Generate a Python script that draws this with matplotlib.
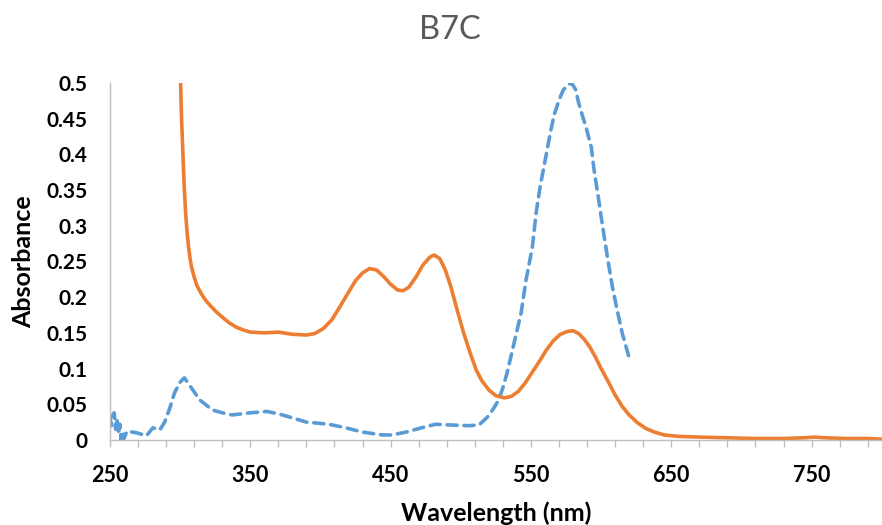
import numpy as np
from matplotlib import pyplot as plt

plt.rcParams['font.family'] = ['Lato', 'DejaVu Sans']

# orange solid curve (nm, absorbance)
orange_nm = [299.5, 301, 302, 303, 304, 305, 306, 307, 308, 310, 312, 315, 318, 322, 326, 330, 335, 340,
             345, 350, 360, 370, 380, 390, 396, 402, 408, 414, 420, 425, 430, 435, 440, 445, 450, 455,
             459, 463, 468, 473, 478, 481, 485, 489, 493, 497, 502, 507, 511, 515, 520, 525, 531, 536,
             541, 546, 551, 556, 561, 566, 571, 576, 580, 584, 588, 592, 596, 600, 605, 610, 615, 620,
             626, 632, 638, 645, 655, 670, 690, 710, 730, 745, 752, 760, 775, 790, 800]
orange_abs = [0.56, 0.45, 0.40, 0.35, 0.315, 0.29, 0.27, 0.255, 0.243, 0.228, 0.216, 0.205, 0.196, 0.187, 0.179, 0.172, 0.164, 0.158,
              0.154, 0.151, 0.15, 0.151, 0.148, 0.147, 0.149, 0.156, 0.168, 0.187, 0.207, 0.223, 0.234, 0.24, 0.238, 0.229, 0.218, 0.21,
              0.209, 0.214, 0.228, 0.245, 0.256, 0.259, 0.254, 0.238, 0.214, 0.185, 0.15, 0.12, 0.098, 0.083, 0.07, 0.062, 0.059, 0.061,
              0.068, 0.08, 0.095, 0.11, 0.126, 0.139, 0.148, 0.152, 0.153, 0.149, 0.141, 0.13, 0.116, 0.1, 0.082, 0.063, 0.047, 0.035,
              0.024, 0.016, 0.011, 0.007, 0.005, 0.004, 0.003, 0.002, 0.002, 0.003, 0.004, 0.003, 0.002, 0.002, 0.001]

# blue dashed curve
blue_nm = [250, 251, 252, 253, 254, 255, 256, 257, 258, 259, 260, 262, 266, 269, 276, 280.6, 285.5, 289,
           292.7, 296, 300, 303, 308, 314, 323, 330, 337, 350, 362, 373, 390, 406, 418, 430, 444,
           451, 461, 472, 482, 492, 506, 513, 519, 523, 527, 530, 533, 538, 543, 546.5, 551, 553.7,
           556.5, 559, 561.5, 564, 566.5, 570, 573, 576, 579, 582, 584, 587, 589, 593, 595, 598,
           601, 605, 608, 611, 615, 620]
blue_abs = [0.031, 0.02, 0.035, 0.038, 0.015, 0.03, 0.008, 0.022, 0.0, 0.012, 0.002, 0.012, 0.011, 0.01, 0.006, 0.017, 0.014, 0.025,
            0.045, 0.066, 0.081, 0.087, 0.073, 0.056, 0.042, 0.038, 0.035, 0.038, 0.04, 0.035, 0.025, 0.022, 0.017, 0.011, 0.007,
            0.007, 0.011, 0.017, 0.022, 0.021, 0.02, 0.021, 0.032, 0.043, 0.056, 0.073, 0.094, 0.136, 0.178, 0.224, 0.27, 0.318,
            0.354, 0.38, 0.406, 0.432, 0.455, 0.476, 0.49, 0.497, 0.5, 0.49, 0.472, 0.452, 0.44, 0.41, 0.378, 0.34,
            0.3, 0.25, 0.215, 0.186, 0.15, 0.115]

fig = plt.figure(figsize=(8.82, 5.25), dpi=100)
ax = fig.add_axes([0.1247, 0.162, 0.875, 0.68])

ax.plot(blue_nm, blue_abs, color='#5B9BD5', lw=2.6, linestyle=(0, (2.8, 1.9)),
        dash_capstyle='round', solid_joinstyle='round', dash_joinstyle='round')
ax.plot(orange_nm, orange_abs, color='#ED7D31', lw=2.6, solid_joinstyle='round')

ax.set_xlim(250, 800)
ax.set_ylim(0, 0.5)

xt = np.arange(250, 800, 20)
ax.set_xticks(xt)
ax.set_xticklabels([str(v) if (v - 250) % 100 == 0 else '' for v in xt])
yt = np.arange(0, 0.501, 0.05)
ax.set_yticks(yt)
ax.set_yticklabels(['0', '0.05', '0.1', '0.15', '0.2', '0.25', '0.3', '0.35', '0.4', '0.45', '0.5'])

ax.tick_params(axis='x', length=5, width=1, color='#BFBFBF', pad=13, labelsize=15.5)
ax.tick_params(axis='y', length=0, pad=16, labelsize=15)
for lab in ax.get_xticklabels() + ax.get_yticklabels():
    lab.set_fontweight('bold')

for s in ['top', 'right']:
    ax.spines[s].set_visible(False)
for s in ['left', 'bottom']:
    ax.spines[s].set_color('#BFBFBF')
    ax.spines[s].set_linewidth(1)

ax.set_xlabel('Wavelength (nm)', fontsize=18, fontweight='bold', labelpad=11)
ax.set_ylabel('Absorbance', fontsize=18, fontweight='bold', labelpad=8)
fig.text(0.51, 0.943, 'B7C', ha='center', va='center', fontsize=23.5, color='#595959')

fig.savefig('out.png', dpi=100)
